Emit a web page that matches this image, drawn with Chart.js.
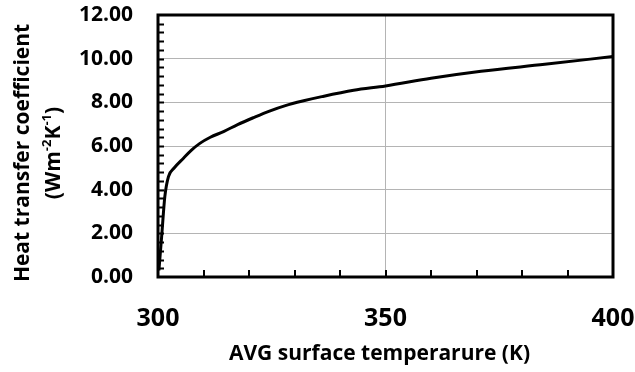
<!DOCTYPE html>
<html>
<head>
  <meta charset="UTF-8" />
  <title>Heat transfer coefficient</title>
  <script src="https://cdn.jsdelivr.net/npm/chart.js"></script>
  <style>
    body { margin: 0; background: #fff; }
    #wrap { width: 635px; height: 372px; }
  </style>
</head>
<body>
  <div id="wrap"><canvas id="c" width="635" height="372"></canvas></div>
  <script>
    // surface temperature (K) and heat transfer coefficient (W m-2 K-1)
    const temps = [300.2, 300.8, 301.5, 302.3, 303.5, 305.6, 307.3, 309.2, 311.5, 314.4, 317.5, 321, 324.5, 328, 332, 336, 343, 350, 360, 371, 385, 400];
    const htc   = [0.3, 1.85, 3.68, 4.6, 4.98, 5.44, 5.8, 6.12, 6.4, 6.66, 6.98, 7.3, 7.6, 7.85, 8.07, 8.26, 8.55, 8.75, 9.1, 9.42, 9.74, 10.1];
    const xTickLabels = [300, 350, 400];

    const FONT = "'Open Sans', sans-serif";
    const GRID = '#b4b4b4';

    // frame + inward minor ticks + axis titles
    const decor = {
      id: 'decor',
      afterDraw(chart) {
        const { ctx, chartArea: a, scales } = chart;
        ctx.save();
        ctx.strokeStyle = '#000';
        // inner minor ticks
        ctx.lineWidth = 2;
        ctx.beginPath();
        for (let v = 0.4; v < 12; v += 0.4) {
          const y = Math.round(scales.y.getPixelForValue(v)) + 0.5;
          ctx.moveTo(a.left, y); ctx.lineTo(a.left + 6, y);
        }
        for (let v = 310; v < 400; v += 10) {
          const x = Math.round(scales.x.getPixelForValue(v));
          ctx.moveTo(x, a.bottom); ctx.lineTo(x, a.bottom - 7);
        }
        ctx.stroke();
        // frame
        ctx.lineWidth = 3;
        ctx.strokeRect(a.left, a.top, a.right - a.left, a.bottom - a.top);

        ctx.fillStyle = '#000';
        // x title
        ctx.font = 'bold 21px ' + FONT;
        ctx.textAlign = 'center';
        ctx.textBaseline = 'middle';
        ctx.fillText('AVG surface temperarure (K)', (a.left + a.right) / 2 - 6, 354);

        // y title, two lines rotated
        ctx.translate(23, (a.top + a.bottom) / 2 + 7);
        ctx.rotate(-Math.PI / 2);
        ctx.fillText('Heat transfer coefficient', 0, 0);
        // second line with superscripts
        const parts = [['(Wm', false], ['-2', true], ['K', false], ['-1', true], [')', false]];
        const big = 'bold 21px ' + FONT, small = 'bold 13px ' + FONT;
        let w = 0;
        parts.forEach(p => { ctx.font = p[1] ? small : big; w += ctx.measureText(p[0]).width; });
        let x = -w / 2;
        ctx.textAlign = 'left';
        parts.forEach(p => {
          ctx.font = p[1] ? small : big;
          ctx.fillText(p[0], x, 31 + (p[1] ? -7 : 0));
          x += ctx.measureText(p[0]).width;
        });
        ctx.restore();
      }
    };

    new Chart(document.getElementById('c'), {
      type: 'line',
      data: {
        datasets: [{
          data: temps.map((t, i) => ({ x: t, y: htc[i] })),
          borderColor: '#000',
          borderWidth: 3,
          borderJoinStyle: 'round',
          pointRadius: 0,
          fill: false,
          cubicInterpolationMode: 'monotone'
        }]
      },
      options: {
        responsive: false,
        animation: false,
        layout: { padding: { top: 15, right: 22, left: 0, bottom: 0 } },
        plugins: { legend: { display: false }, tooltip: { enabled: false } },
        scales: {
          x: {
            type: 'linear',
            min: 300, max: 400,
            afterFit: s => { s.height = 95; s.paddingLeft = 0; s.paddingRight = 0; },
            border: { display: false },
            grid: {
              drawTicks: false,
              color: c => (c.tick && c.tick.value === 350) ? GRID : 'transparent'
            },
            ticks: {
              stepSize: 10,
              autoSkip: false,
              maxRotation: 0,
              padding: 27,
              color: '#000',
              font: { family: FONT, size: 25, weight: 'bold' },
              callback: v => xTickLabels.includes(v) ? String(v) : ''
            }
          },
          y: {
            min: 0, max: 12,
            afterFit: s => { s.width = 158; s.paddingTop = 0; s.paddingBottom = 0; },
            border: { display: false },
            grid: { drawTicks: false, color: GRID },
            ticks: {
              stepSize: 2,
              padding: 25,
              color: '#000',
              font: { family: FONT, size: 21, weight: 'bold' },
              callback: v => v.toFixed(2)
            }
          }
        }
      },
      plugins: [decor]
    });
  </script>
</body>
</html>
